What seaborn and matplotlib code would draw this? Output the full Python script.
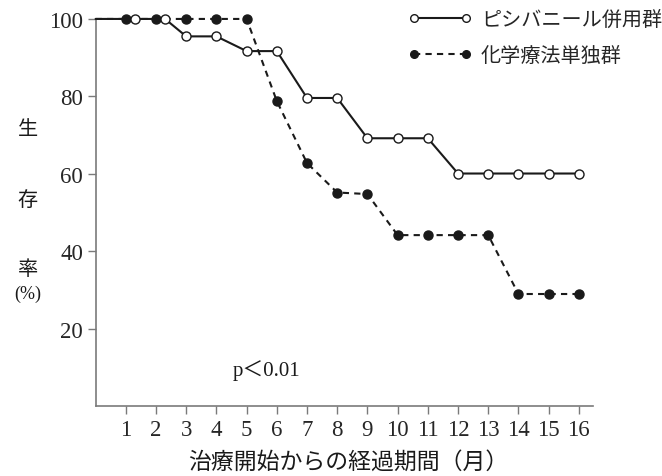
import matplotlib
matplotlib.use("Agg")
import matplotlib.pyplot as plt
import seaborn as sns
import pandas as pd

# -----------------------------
# Данные
# -----------------------------
combo_label = "ピシバニール併用群"
combo_month = [0, 1.3, 2.3, 3, 4, 5, 6, 7, 8, 9, 10, 11, 12, 13, 14, 15, 16]
combo_rate = [100, 100, 100, 95.5, 95.5, 91.7, 91.7, 79.6, 79.6, 69.2, 69.2, 69.2,
              60.1, 60.1, 60.1, 60.1, 60.1]

chemo_label = "化学療法単独群"
chemo_month = [0, 1, 2, 3, 4, 5, 6, 7, 8, 9, 10, 11, 12, 13, 14, 15, 16]
chemo_rate = [100, 100, 100, 100, 100, 100, 78.8, 62.8, 55.2, 54.8, 44.2, 44.2,
              44.2, 44.2, 29.0, 29.0, 29.0]

x_ticks = list(range(1, 17))
y_ticks = [20, 40, 60, 80, 100]

x_title = "治療開始からの経過期間（月）"
y_title_chars = ["生", "存", "率"]
p_text = "p＜0.01"

# -----------------------------
# Стиль
# -----------------------------
sns.set_theme(style="white")
plt.rcParams["font.family"] = ["Liberation Serif", "Noto Sans CJK JP"]
jp = ["Noto Sans CJK JP", "DejaVu Sans"]
line_color = "#1a1a1a"
spine_color = "#7a7a7a"

df_combo = pd.DataFrame({"month": combo_month, "rate": combo_rate})
df_chemo = pd.DataFrame({"month": chemo_month, "rate": chemo_rate})

fig = plt.figure(figsize=(6.62, 4.77), dpi=100)
ax = fig.add_axes([0.1444, 0.1460, 0.7514, 0.8122])

sns.lineplot(data=df_chemo, x="month", y="rate", ax=ax, color=line_color,
             linewidth=1.5, linestyle=(0, (3, 2.5)), marker="o", markersize=6.5,
             markerfacecolor=line_color, markeredgecolor=line_color,
             markeredgewidth=1.0, markevery=list(range(1, len(chemo_month))),
             label=chemo_label, clip_on=False, zorder=3)
sns.lineplot(data=df_combo, x="month", y="rate", ax=ax, color=line_color,
             linewidth=1.5, marker="o", markersize=6.5,
             markerfacecolor="white", markeredgecolor=line_color,
             markeredgewidth=1.0, markevery=list(range(1, len(combo_month))),
             label=combo_label, clip_on=False, zorder=4)

handles, labels = ax.get_legend_handles_labels()
if ax.get_legend() is not None:
    ax.get_legend().remove()

ax.set_xlim(0, 16.47)
ax.set_ylim(0, 100)
ax.set_xticks(x_ticks)
ax.set_yticks(y_ticks)
ax.set_xlabel("")
ax.set_ylabel("")
ax.tick_params(axis="both", which="major", direction="out", length=6, width=1,
               color=spine_color, labelsize=16.5, pad=3, bottom=True, left=True)
for side in ["top", "right"]:
    ax.spines[side].set_visible(False)
for side in ["left", "bottom"]:
    ax.spines[side].set_color(spine_color)
    ax.spines[side].set_linewidth(1.2)

# подписи осей
fig.text(0.526, 0.030, x_title, ha="center", va="center", fontsize=16.5,
         family=jp, color="#1a1a1a")
for ch, yy in zip(y_title_chars, [0.7275, 0.5807, 0.434]):
    fig.text(0.042, yy, ch, ha="center", va="center", fontsize=14.5,
             family=jp, color="#1a1a1a")
fig.text(0.042, 0.382, "(%)", ha="center", va="center", fontsize=13,
         color="#1a1a1a")

ax.text(5.66, 9.5, p_text, ha="center", va="center", fontsize=15,
        family=["Liberation Serif", "Noto Sans CJK JP"], color="#1a1a1a")

# легенда
order = [labels.index(combo_label), labels.index(chemo_label)]
leg = fig.legend([handles[i] for i in order], [labels[i] for i in order],
                 loc="upper left", bbox_to_anchor=(0.617, 0.979), frameon=False,
                 numpoints=2, handlelength=3.15, handletextpad=0.45,
                 labelspacing=0.75, borderpad=0, borderaxespad=0,
                 prop={"family": jp, "size": 14.5})
for h in leg.legend_handles:
    h.set_markersize(5.5)

fig.savefig("out.png", dpi=100)
